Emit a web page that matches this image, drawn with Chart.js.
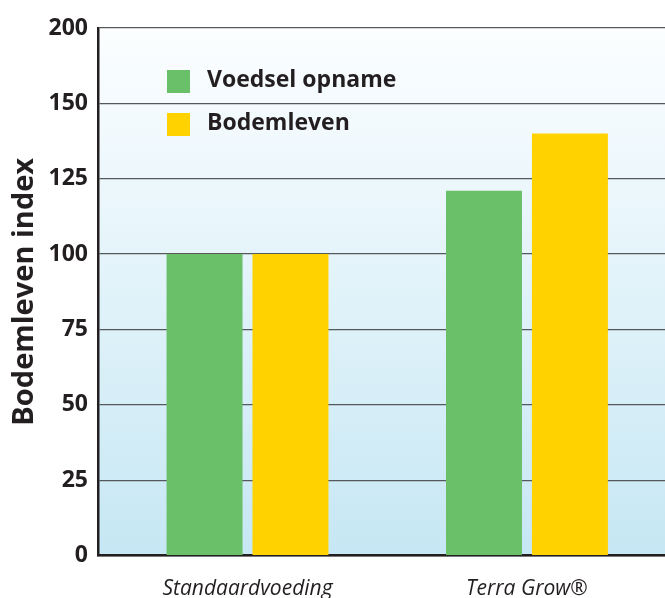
<!DOCTYPE html>
<html lang="nl">
<head>
<meta charset="utf-8">
<title>Bodemleven index</title>
<script src="https://cdn.jsdelivr.net/npm/chart.js@4.4.1/dist/chart.umd.min.js"></script>
<style>
    html, body { margin: 0; padding: 0; background: #ffffff; overflow: hidden; }
    #chartBox { width: 665px; height: 598px; }
</style>
</head>
<body>
<div id="chartBox"><canvas id="bodemChart" width="665" height="598"></canvas></div>
<script>
// Chart data
const categories = ['Standaardvoeding', 'Terra Grow®'];
const voedselOpname = [100, 121];
const bodemleven = [100, 140];
const yTickLabels = ['0', '25', '50', '75', '100', '125', '150', '200'];
const seriesNames = ['Voedsel opname', 'Bodemleven'];
const seriesColors = ['#6abf69', '#ffd200'];

const textColor = '#231f20';

document.addEventListener('DOMContentLoaded', function() {
    // Light blue gradient behind the plot
    const plotBackground = {
        id: 'plotBackground',
        beforeDraw(chart) {
            const { ctx, chartArea } = chart;
            const grad = ctx.createLinearGradient(0, chartArea.top, 0, chartArea.bottom);
            grad.addColorStop(0, '#fcfeff');
            grad.addColorStop(1, '#c6e7f4');
            ctx.save();
            ctx.fillStyle = grad;
            ctx.fillRect(chartArea.left, chartArea.top, chartArea.right - chartArea.left, chartArea.bottom - chartArea.top);
            ctx.restore();
        }
    };

    // Legend drawn inside the plot area
    const innerLegend = {
        id: 'innerLegend',
        afterDraw(chart) {
            const { ctx, chartArea } = chart;
            const x = chartArea.left + 69;
            let y = chartArea.top + 42;
            ctx.save();
            ctx.font = 'bold 23px "Open Sans"';
            ctx.textBaseline = 'middle';
            chart.data.datasets.forEach(ds => {
                ctx.fillStyle = ds.backgroundColor;
                ctx.fillRect(x, y, 23, 23);
                ctx.fillStyle = textColor;
                ctx.fillText(ds.label, x + 40, y + 10.5);
                y += 43;
            });
            ctx.restore();
        }
    };

    // Bars sit on a numeric x axis so the groups can be placed like the original
    const toPoints = values => values.map((v, i) => ({ x: i, y: v }));

    const ctx = document.getElementById('bodemChart').getContext('2d');

    const bodemChart = new Chart(ctx, {
        type: 'bar',
        data: {
            datasets: [{
                label: seriesNames[0],
                data: toPoints(voedselOpname),
                backgroundColor: seriesColors[0]
            }, {
                label: seriesNames[1],
                data: toPoints(bodemleven),
                backgroundColor: seriesColors[1]
            }]
        },
        options: {
            responsive: false,
            animation: false,
            categoryPercentage: 0.615,
            barPercentage: 0.884,
            layout: {
                padding: { top: 28, left: 0, right: 0, bottom: 0 }
            },
            plugins: {
                legend: { display: false },
                tooltip: { enabled: false }
            },
            scales: {
                x: {
                    type: 'linear',
                    offset: false,
                    min: -0.535,
                    max: 1.494,
                    z: 1,
                    afterFit: function(scale) { scale.height = 42.5; },
                    grid: { display: false, drawTicks: false },
                    border: { display: true, color: textColor, width: 2.5 },
                    ticks: {
                        stepSize: 1,
                        includeBounds: false,
                        autoSkip: false,
                        maxRotation: 0,
                        padding: 21,
                        color: textColor,
                        font: { family: '"Open Sans"', size: 21, style: 'italic' },
                        callback: function(value) {
                            return Number.isInteger(value) ? (categories[value] || '') : '';
                        }
                    }
                },
                y: {
                    min: 0,
                    max: 175,
                    afterFit: function(scale) { scale.width = 98; },
                    grid: { color: '#55595c', lineWidth: 1.2, drawTicks: false },
                    border: { display: true, color: textColor, width: 2.5 },
                    ticks: {
                        stepSize: 25,
                        padding: 10,
                        color: textColor,
                        font: { family: '"Open Sans"', size: 23, weight: 'bold' },
                        callback: function(value) {
                            return yTickLabels[Math.round(value / 25)];
                        }
                    },
                    title: {
                        display: true,
                        text: 'Bodemleven index',
                        color: textColor,
                        padding: { top: 7, bottom: 0 },
                        font: { family: '"Open Sans"', size: 29, weight: 'bold' }
                    }
                }
            }
        },
        plugins: [plotBackground, innerLegend]
    });
});
</script>
</body>
</html>
